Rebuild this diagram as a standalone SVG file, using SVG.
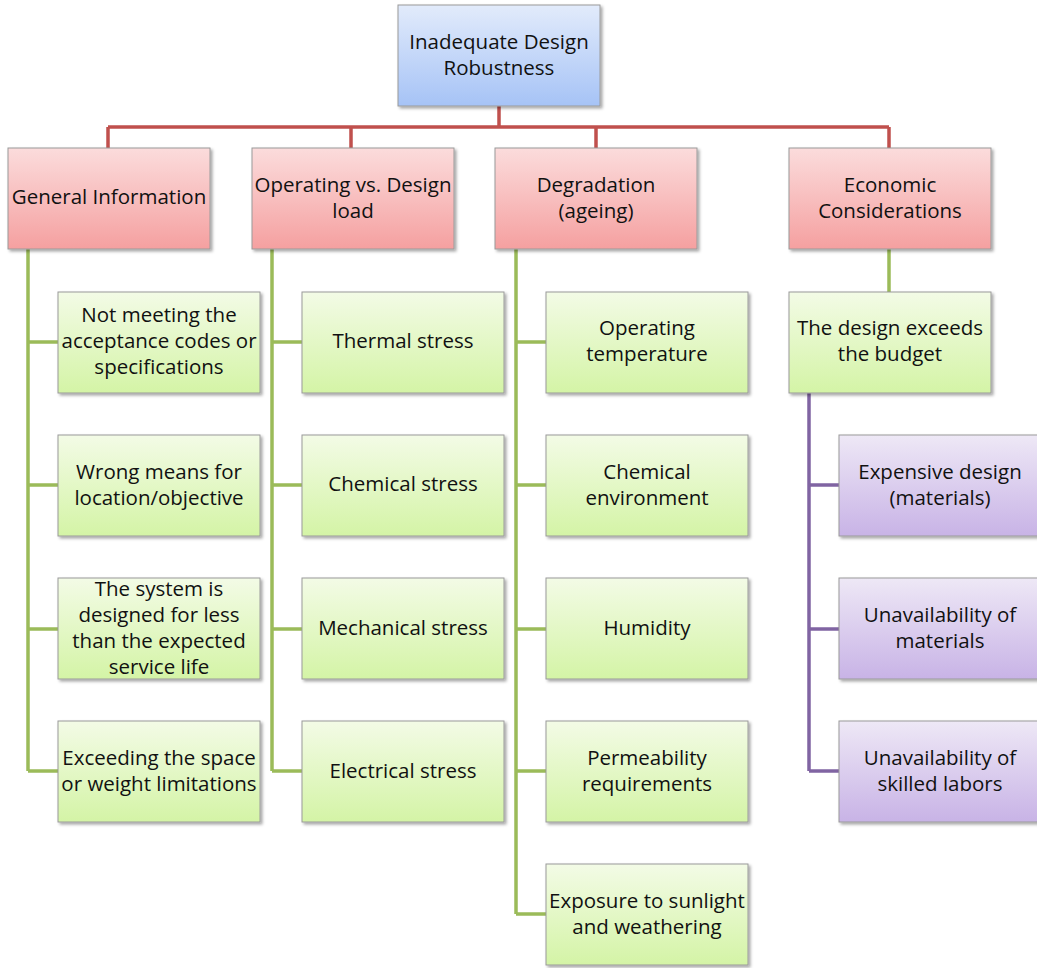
<svg xmlns="http://www.w3.org/2000/svg" width="1037" height="968" viewBox="0 0 1037 968">
  <defs>
    <linearGradient id="gBlue" x1="0" y1="0" x2="0" y2="1">
      <stop offset="0" stop-color="#e2ebfb"/>
      <stop offset="1" stop-color="#a6c3f6"/>
    </linearGradient>
    <linearGradient id="gRed" x1="0" y1="0" x2="0" y2="1">
      <stop offset="0" stop-color="#fbdcdc"/>
      <stop offset="1" stop-color="#f5a0a0"/>
    </linearGradient>
    <linearGradient id="gGreen" x1="0" y1="0" x2="0" y2="1">
      <stop offset="0" stop-color="#f3fbe6"/>
      <stop offset="1" stop-color="#d4f4a6"/>
    </linearGradient>
    <linearGradient id="gPurple" x1="0" y1="0" x2="0" y2="1">
      <stop offset="0" stop-color="#eee8f6"/>
      <stop offset="1" stop-color="#c8b3e6"/>
    </linearGradient>
    <filter id="shadow" x="-10%" y="-10%" width="125%" height="130%">
      <feDropShadow dx="2" dy="2" stdDeviation="1.5" flood-color="#000" flood-opacity="0.35"/>
    </filter>
  </defs>
  <style>
    rect.box { stroke: #9a9a9a; stroke-width: 1; filter: url(#shadow); }
    .blue { fill: url(#gBlue); }
    .red { fill: url(#gRed); }
    .green { fill: url(#gGreen); }
    .purple { fill: url(#gPurple); }
    text { font-family: "Open Sans", "Liberation Sans", sans-serif; font-size: 20.5px; fill: #111; text-anchor: middle; }
    .c-red { stroke: #c0504d; stroke-width: 3.5; fill: none; }
    .c-green { stroke: #9bbb59; stroke-width: 3.5; fill: none; }
    .c-purple { stroke: #8064a2; stroke-width: 3.5; fill: none; }
  </style>

  <g id="connectors">
    <path class="c-red" d="M499 106 V127 M108 127 H889 M108 127 V148 M351 127 V148 M596 127 V148 M889 127 V148"/>
    <path class="c-green" d="M28 249 V771 M28 342 H58 M28 485 H58 M28 629 H58 M28 771 H58"/>
    <path class="c-green" d="M272 249 V771 M272 342 H302 M272 485 H302 M272 629 H302 M272 771 H302"/>
    <path class="c-green" d="M516 249 V914 M516 342 H546 M516 485 H546 M516 629 H546 M516 771 H546 M516 914 H546"/>
    <path class="c-green" d="M889 249 V292"/>
    <path class="c-purple" d="M809 393 V771 M809 485 H839 M809 629 H839 M809 771 H839"/>
  </g>

  <g id="root">
    <rect class="box blue" x="398" y="5" width="202" height="101"/>
    <text x="499" y="49">Inadequate Design</text>
    <text x="499" y="75">Robustness</text>
  </g>

  <g id="general-information">
    <rect class="box red" x="8" y="148" width="202" height="101"/>
    <text x="109" y="204">General Information</text>
  </g>
  <g id="operating-vs-design-load">
    <rect class="box red" x="252" y="148" width="202" height="101"/>
    <text x="353" y="192">Operating vs. Design</text>
    <text x="353" y="218">load</text>
  </g>
  <g id="degradation">
    <rect class="box red" x="495" y="148" width="202" height="101"/>
    <text x="596" y="192">Degradation</text>
    <text x="596" y="218">(ageing)</text>
  </g>
  <g id="economic-considerations">
    <rect class="box red" x="789" y="148" width="202" height="101"/>
    <text x="890" y="192">Economic</text>
    <text x="890" y="218">Considerations</text>
  </g>

  <g id="not-meeting-codes">
    <rect class="box green" x="58" y="292" width="202" height="101"/>
    <text x="159" y="322">Not meeting the</text>
    <text x="159" y="348">acceptance codes or</text>
    <text x="159" y="374">specifications</text>
  </g>
  <g id="wrong-means">
    <rect class="box green" x="58" y="435" width="202" height="101"/>
    <text x="159" y="479">Wrong means for</text>
    <text x="159" y="505">location/objective</text>
  </g>
  <g id="short-service-life">
    <rect class="box green" x="58" y="578" width="202" height="101"/>
    <text x="159" y="596">The system is</text>
    <text x="159" y="622">designed for less</text>
    <text x="159" y="648">than the expected</text>
    <text x="159" y="674">service life</text>
  </g>
  <g id="exceeding-limits">
    <rect class="box green" x="58" y="721" width="202" height="101"/>
    <text x="159" y="765">Exceeding the space</text>
    <text x="159" y="791">or weight limitations</text>
  </g>

  <g id="thermal-stress">
    <rect class="box green" x="302" y="292" width="202" height="101"/>
    <text x="403" y="348">Thermal stress</text>
  </g>
  <g id="chemical-stress">
    <rect class="box green" x="302" y="435" width="202" height="101"/>
    <text x="403" y="491">Chemical stress</text>
  </g>
  <g id="mechanical-stress">
    <rect class="box green" x="302" y="578" width="202" height="101"/>
    <text x="403" y="635">Mechanical stress</text>
  </g>
  <g id="electrical-stress">
    <rect class="box green" x="302" y="721" width="202" height="101"/>
    <text x="403" y="778">Electrical stress</text>
  </g>

  <g id="operating-temperature">
    <rect class="box green" x="546" y="292" width="202" height="101"/>
    <text x="647" y="335">Operating</text>
    <text x="647" y="361">temperature</text>
  </g>
  <g id="chemical-environment">
    <rect class="box green" x="546" y="435" width="202" height="101"/>
    <text x="647" y="479">Chemical</text>
    <text x="647" y="505">environment</text>
  </g>
  <g id="humidity">
    <rect class="box green" x="546" y="578" width="202" height="101"/>
    <text x="647" y="635">Humidity</text>
  </g>
  <g id="permeability">
    <rect class="box green" x="546" y="721" width="202" height="101"/>
    <text x="647" y="765">Permeability</text>
    <text x="647" y="791">requirements</text>
  </g>
  <g id="sunlight-weathering">
    <rect class="box green" x="546" y="864" width="202" height="101"/>
    <text x="647" y="908">Exposure to sunlight</text>
    <text x="647" y="934">and weathering</text>
  </g>

  <g id="exceeds-budget">
    <rect class="box green" x="789" y="292" width="202" height="101"/>
    <text x="890" y="335">The design exceeds</text>
    <text x="890" y="361">the budget</text>
  </g>
  <g id="expensive-design">
    <rect class="box purple" x="839" y="435" width="202" height="101"/>
    <text x="940" y="479">Expensive design</text>
    <text x="940" y="505">(materials)</text>
  </g>
  <g id="materials-unavailable">
    <rect class="box purple" x="839" y="578" width="202" height="101"/>
    <text x="940" y="622">Unavailability of</text>
    <text x="940" y="648">materials</text>
  </g>
  <g id="labor-unavailable">
    <rect class="box purple" x="839" y="721" width="202" height="101"/>
    <text x="940" y="765">Unavailability of</text>
    <text x="940" y="791">skilled labors</text>
  </g>
</svg>
